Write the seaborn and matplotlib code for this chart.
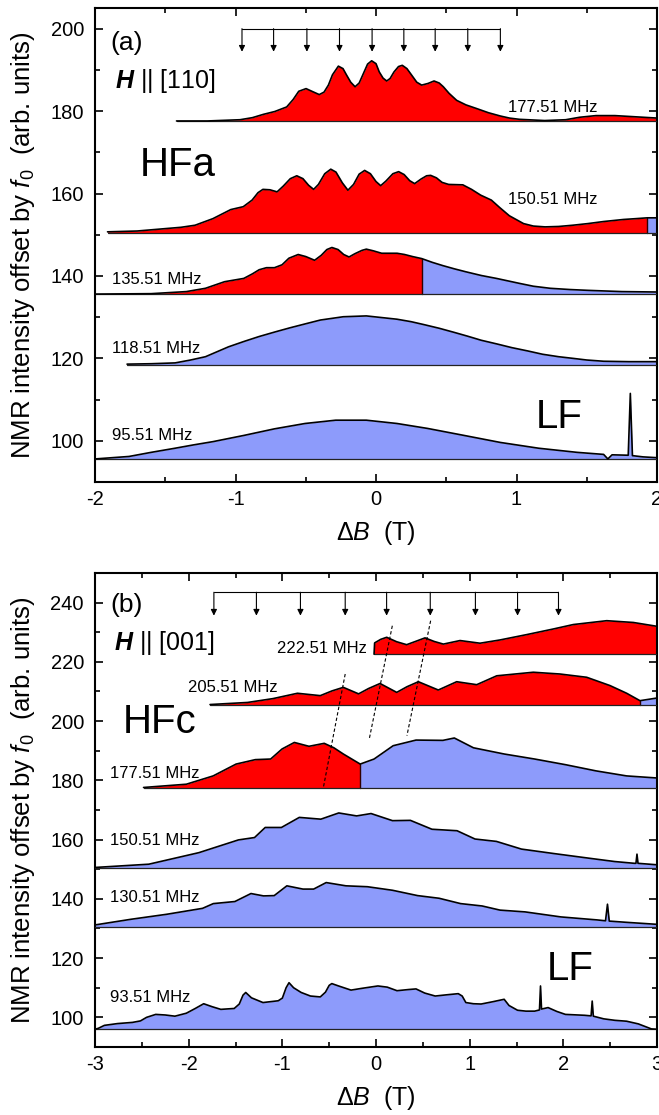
import numpy as np
import matplotlib
matplotlib.use("Agg")
import matplotlib.pyplot as plt
from matplotlib.ticker import MultipleLocator
import seaborn as sns
import pandas as pd

sns.set_theme(style="ticks")
plt.rcParams['font.family'] = ['Liberation Sans', 'DejaVu Sans']
plt.rcParams['mathtext.fontset'] = 'custom'
plt.rcParams['mathtext.rm'] = 'Liberation Sans'
plt.rcParams['mathtext.it'] = 'Liberation Sans:italic'
plt.rcParams['mathtext.bf'] = 'Liberation Sans:bold:italic'
plt.rcParams['axes.unicode_minus'] = False
for k in ['text.color', 'axes.labelcolor', 'xtick.color', 'ytick.color', 'axes.edgecolor']:
    plt.rcParams[k] = 'black'

RED = "#ff0000"
BLUE = "#8d9bfb"

# ---------------- Panel (a): H || [110] ----------------
a177_x = [-1.42, -1.2, -0.968, -0.88, -0.802, -0.72, -0.636, -0.59, -0.55, -0.498, -0.45, -0.404, -0.37,
          -0.339, -0.31, -0.268, -0.235, -0.209, -0.18, -0.149, -0.12, -0.090, -0.06, -0.031, 0.0, 0.023,
          0.05, 0.076, 0.10, 0.128, 0.16, 0.187, 0.22, 0.254, 0.29, 0.325, 0.37, 0.413, 0.45, 0.479,
          0.52, 0.574, 0.64, 0.717, 0.8, 0.885, 0.95, 1.02, 1.2, 1.35, 1.45, 1.566, 1.7, 1.8, 2.0]
a177_y = [177.6, 177.6, 177.9, 178.4, 179.2, 179.9, 181.0, 182.8, 184.8, 185.45, 184.7, 184.0, 184.6,
          186.3, 188.8, 190.9, 190.3, 188.7, 187.0, 185.9, 186.8, 189.1, 191.4, 192.2, 191.5, 189.5,
          188.0, 187.3, 187.9, 189.5, 190.8, 191.1, 190.3, 188.7, 187.0, 186.3, 186.7, 187.3, 186.8, 185.9,
          184.3, 182.6, 181.5, 180.6, 179.6, 178.8, 178.3, 178.0, 177.7, 177.9, 178.5, 178.9, 178.9, 178.7, 178.3]
a177_base, a177_cut = 177.51, 2.0

a150_x = [-1.911, -1.7, -1.492, -1.388, -1.288, -1.161, -1.034, -0.945, -0.882, -0.84, -0.805, -0.755,
          -0.704, -0.66, -0.61, -0.564, -0.52, -0.48, -0.444, -0.41, -0.365, -0.322, -0.285, -0.24, -0.2,
          -0.16, -0.12, -0.081, -0.04, 0.0, 0.033, 0.07, 0.12, 0.161, 0.2, 0.24, 0.275, 0.32, 0.36, 0.389,
          0.43, 0.47, 0.517, 0.618, 0.68, 0.745, 0.821, 0.88, 0.949, 1.05, 1.12, 1.203, 1.3, 1.4, 1.508,
          1.62, 1.762, 1.85, 1.932, 2.0]
a150_y = [150.7, 150.9, 151.5, 151.8, 152.3, 153.9, 156.1, 156.8, 158.4, 160.2, 161.0, 160.9,
          160.4, 161.8, 163.6, 164.3, 163.6, 162.0, 161.0, 162.2, 164.8, 165.9, 165.2, 162.6, 160.8,
          162.2, 164.7, 165.6, 164.8, 162.9, 161.9, 163.0, 164.8, 165.3, 164.6, 163.1, 162.4, 163.5, 164.3, 164.4,
          163.8, 162.7, 162.2, 162.1, 161.0, 159.6, 158.4, 156.6, 154.6, 152.7, 152.1, 151.9, 152.0, 152.3, 152.7,
          153.2, 153.7, 153.9, 154.1, 154.1]
a150_base, a150_cut = 150.51, 1.932

a135_x = [-2.0, -1.6, -1.35, -1.214, -1.078, -0.941, -0.88, -0.832, -0.78, -0.723, -0.669, -0.62, -0.554,
          -0.50, -0.437, -0.39, -0.35, -0.314, -0.27, -0.23, -0.192, -0.15, -0.10, -0.069, -0.02, 0.04,
          0.094, 0.15, 0.203, 0.26, 0.326, 0.40, 0.476, 0.56, 0.64, 0.75, 0.857, 1.02, 1.12, 1.24, 1.38,
          1.51, 1.75, 2.0]
a135_y = [135.6, 135.7, 136.2, 137.0, 138.6, 139.4, 140.5, 141.5, 142.0, 142.0, 142.7, 144.3, 145.2,
          144.7, 143.8, 145.0, 146.4, 146.9, 146.4, 145.2, 144.6, 145.4, 146.2, 146.5, 146.1, 145.5,
          145.5, 145.5, 145.2, 144.7, 144.2, 143.3, 142.5, 141.7, 141.0, 140.1, 139.4, 138.2, 137.5, 137.0, 136.7,
          136.5, 136.2, 136.1]
a135_base, a135_cut = 135.51, 0.326

a118_x = [-1.772, -1.6, -1.43, -1.32, -1.214, -1.05, -0.94, -0.832, -0.72, -0.614, -0.5, -0.396, -0.233,
          -0.069, 0.149, 0.25, 0.34, 0.45, 0.557, 0.65, 0.748, 0.86, 0.967, 1.08, 1.185, 1.3, 1.402,
          1.5, 1.62, 1.8, 2.0]
a118_y = [118.6, 118.7, 118.9, 119.6, 120.4, 122.8, 124.1, 125.3, 126.4, 127.4, 128.4, 129.3, 130.1,
          130.3, 129.5, 128.9, 128.2, 127.3, 126.3, 125.4, 124.4, 123.5, 122.6, 121.8, 121.0, 120.4, 120.0,
          119.6, 119.3, 119.2, 119.2]
a118_base, a118_cut = 118.51, -1.772

a95_x = [-2.0, -1.758, -1.6, -1.43, -1.3, -1.16, -0.941, -0.723, -0.505, -0.287, -0.069, 0.149, 0.367, 0.612,
         0.885, 1.157, 1.43, 1.62, 1.65, 1.68, 1.795, 1.81, 1.825, 1.9, 2.0]
a95_y = [95.6, 96.2, 97.2, 98.2, 99.0, 99.8, 101.3, 102.9, 104.2, 105.0, 105.0, 104.2, 103.0, 101.4,
         99.6, 98.2, 97.2, 96.7, 95.6, 96.6, 96.5, 111.5, 96.4, 96.1, 95.9]
a95_base, a95_cut = 95.51, -2.0

a_arrows = [-0.954, -0.729, -0.492, -0.260, -0.028, 0.198, 0.421, 0.653, 0.885]
a_arrow_top, a_arrow_tip = 200.0, 194.4

# ---------------- Panel (b): H || [001] ----------------
b222_x = [-0.021, -0.015, 0.05, 0.114, 0.22, 0.327, 0.43, 0.523, 0.62, 0.719, 0.897, 1.11, 1.324,
          1.608, 1.893, 2.106, 2.463, 2.747, 3.0]
b222_y = [222.6, 226.4, 227.6, 228.3, 226.8, 225.8, 227.0, 228.1, 226.9, 226.0, 227.2, 226.3, 227.4,
          229.2, 231.1, 232.6, 233.9, 233.3, 232.0]
b222_base, b222_cut = 222.51, 3.0

b205_x = [-1.772, -1.371, -1.1, -0.839, -0.595, -0.47, -0.349, -0.186, -0.08, 0.043, 0.221, 0.33, 0.452,
          0.665, 0.861, 1.075, 1.289, 1.679, 1.964, 2.249, 2.498, 2.676, 2.818, 3.0]
b205_y = [205.6, 206.3, 207.6, 209.4, 208.6, 210.2, 211.4, 209.2, 211.0, 212.7, 209.7, 211.6, 213.3,
          210.5, 213.3, 212.3, 215.3, 216.5, 215.9, 214.8, 212.0, 209.4, 206.9, 207.8]
b205_base, b205_cut = 205.51, 2.818

b177_x = [-2.482, -2.025, -1.739, -1.494, -1.289, -1.125, -1.003, -0.872, -0.716, -0.553, -0.45, -0.349,
          -0.169, -0.021, 0.183, 0.427, 0.714, 0.836, 1.04, 1.368, 1.694, 2.022, 2.349, 2.676, 3.0]
b177_y = [177.6, 178.7, 181.5, 185.5, 187.0, 187.2, 190.6, 192.8, 191.5, 192.5, 191.0, 188.9,
          185.5, 187.2, 191.7, 193.6, 193.5, 194.3, 191.0, 188.9, 187.2, 185.3, 183.2, 181.5, 180.8]
b177_base, b177_cut = 177.51, -0.169

b150_x = [-3.0, -2.426, -1.891, -1.469, -1.297, -1.183, -1.01, -0.819, -0.589, -0.398, -0.207, -0.053,
          0.176, 0.367, 0.597, 0.865, 1.057, 1.285, 1.553, 1.898, 2.28, 2.548, 2.758, 2.775, 2.786,
          2.797, 3.0]
b150_y = [150.6, 151.7, 155.6, 159.9, 160.7, 164.1, 164.1, 167.5, 166.9, 169.0, 168.0, 168.8,
          166.4, 166.5, 163.5, 163.0, 160.2, 159.4, 156.8, 155.3, 153.7, 152.6, 152.0, 152.0, 155.1,
          152.0, 151.5]
b150_base, b150_cut = 150.51, -3.0

b130_x = [-3.0, -2.618, -2.234, -1.852, -1.737, -1.507, -1.335, -1.201, -1.087, -0.952, -0.78, -0.666,
          -0.532, -0.321, -0.092, 0.176, 0.444, 0.674, 0.903, 1.133, 1.324, 1.592, 1.975, 2.358, 2.45,
          2.471, 2.49, 2.664, 3.0]
b130_y = [131.2, 133.1, 134.8, 136.8, 138.4, 139.1, 141.8, 141.0, 141.1, 144.4, 143.3, 143.3,
          145.5, 144.4, 144.1, 142.9, 141.1, 140.2, 138.4, 137.6, 136.2, 135.6, 133.9, 132.9, 132.6,
          138.2, 132.5, 132.1, 131.4]
b130_base, b130_cut = 130.51, -3.0

b93_x = [-3.0, -2.965, -2.9, -2.76, -2.6, -2.515, -2.45, -2.352, -2.25, -2.147, -2.025, -1.93, -1.84,
         -1.75, -1.657, -1.514, -1.46, -1.42, -1.391, -1.33, -1.207, -1.044, -1.0, -0.96, -0.929, -0.88,
         -0.799, -0.7, -0.595, -0.54, -0.5, -0.472, -0.40, -0.267, -0.15, 0.02, 0.12, 0.224, 0.35, 0.427,
         0.52, 0.632, 0.75, 0.878, 0.92, 0.959, 1.04, 1.122, 1.25, 1.368, 1.42, 1.511, 1.60, 1.694,
         1.745, 1.756, 1.767, 1.837, 1.93, 2.022, 2.226, 2.296, 2.308, 2.32, 2.431, 2.55, 2.675, 2.8,
         2.94, 3.0]
b93_y = [96.0, 96.3, 97.3, 97.9, 98.3, 98.8, 100.0, 101.0, 100.8, 100.4, 101.4, 103.0, 104.6,
         103.6, 102.7, 103.0, 104.5, 107.5, 108.4, 106.6, 105.0, 105.6, 106.5, 110.0, 111.7, 110.0,
         108.4, 107.2, 106.9, 108.5, 110.8, 111.4, 110.6, 109.2, 109.8, 110.6, 110.2, 109.0, 109.4, 109.6,
         108.2, 107.2, 107.6, 108.0, 107.2, 105.0, 104.6, 104.5, 105.3, 106.1, 104.0, 102.4, 102.1, 102.1,
         102.5, 110.6, 102.8, 103.3, 102.0, 101.0, 100.7, 100.5, 105.5, 100.4, 99.5, 99.0, 98.7, 97.8,
         96.1, 96.0]
b93_base, b93_cut = 96.0, -3.0

b_arrows = [-1.731, -1.277, -0.807, -0.329, 0.113, 0.579, 1.061, 1.511, 1.948]
b_arrow_top, b_arrow_tip = 243.5, 235.6

b_dash_x0 = [-0.329, 0.174, 0.583]
b_dash_y0 = [215.9, 232.2, 233.9]
b_dash_x1 = [-0.562, -0.072, 0.330]
b_dash_y1 = [177.6, 194.0, 195.1]

traces_a = [(a177_x, a177_y, a177_base, a177_cut), (a150_x, a150_y, a150_base, a150_cut),
            (a135_x, a135_y, a135_base, a135_cut), (a118_x, a118_y, a118_base, a118_cut),
            (a95_x, a95_y, a95_base, a95_cut)]
traces_b = [(b222_x, b222_y, b222_base, b222_cut), (b205_x, b205_y, b205_base, b205_cut),
            (b177_x, b177_y, b177_base, b177_cut), (b150_x, b150_y, b150_base, b150_cut),
            (b130_x, b130_y, b130_base, b130_cut), (b93_x, b93_y, b93_base, b93_cut)]


def draw_trace(ax, xs, ys, base, cut):
    x = np.asarray(xs, float)
    y = np.asarray(ys, float)
    m1 = x <= cut + 1e-9
    m2 = x >= cut - 1e-9
    if m1.sum() > 1:
        ax.fill_between(x[m1], base, y[m1], color=RED, lw=0, zorder=2)
    if m2.sum() > 1:
        ax.fill_between(x[m2], base, y[m2], color=BLUE, lw=0, zorder=2)
    if x[0] < cut < x[-1]:
        yc = y[np.argmin(np.abs(x - cut))]
        ax.plot([cut, cut], [base, yc], color="#300000", lw=1.0, zorder=3)
    ax.plot([x[0], x[-1]], [base, base], color="#222222", lw=0.9, zorder=3)
    df = pd.DataFrame({"x": x, "y": y})
    sns.lineplot(data=df, x="x", y="y", ax=ax, color="black", lw=1.2, sort=False,
                 estimator=None, zorder=4)


def draw_arrows(ax, xs, top, tip):
    ax.plot([xs[0], xs[-1]], [top, top], color="black", lw=0.8, zorder=5)
    for xa in xs:
        ax.annotate("", xy=(xa, tip), xytext=(xa, top),
                    arrowprops=dict(arrowstyle="-|>", color="black", lw=0.8,
                                    mutation_scale=9, shrinkA=0, shrinkB=0), zorder=5)


def style_axes(ax, xlim, ylim, ymaj):
    ax.set_xlim(*xlim)
    ax.set_ylim(*ylim)
    ax.xaxis.set_major_locator(MultipleLocator(1))
    ax.xaxis.set_minor_locator(MultipleLocator(0.5))
    ax.yaxis.set_major_locator(MultipleLocator(ymaj))
    ax.yaxis.set_minor_locator(MultipleLocator(ymaj / 2))
    ax.tick_params(which="both", direction="in", top=True, right=True, width=1.2, colors="black")
    ax.tick_params(which="major", length=6, labelsize=14.5)
    ax.tick_params(axis="x", which="major", pad=6)
    ax.tick_params(axis="y", which="major", pad=8)
    ax.tick_params(which="minor", length=3.5)
    for s in ax.spines.values():
        s.set_linewidth(1.5)
        s.set_color("black")
    ax.set_xlabel(r"$\Delta\mathit{B}$  (T)", fontsize=18, va="center", color="black")
    ax.set_ylabel(r"NMR intensity offset by $\mathit{f}_0$  (arb. units)", fontsize=18.5,
                  va="center", color="black")
    ax.xaxis.set_label_coords(0.5, -0.1076)
    ax.yaxis.set_label_coords(-0.128, 0.5)


fig = plt.figure(figsize=(6.59, 11.15), dpi=100)
ax_a = fig.add_axes([0.1442, 0.5677, 0.8528, 0.4251])
ax_b = fig.add_axes([0.1442, 0.0610, 0.8528, 0.4251])

for t in traces_a:
    draw_trace(ax_a, *t)
for t in traces_b:
    draw_trace(ax_b, *t)

draw_arrows(ax_a, a_arrows, a_arrow_top, a_arrow_tip)
draw_arrows(ax_b, b_arrows, b_arrow_top, b_arrow_tip)
for x0, y0, x1, y1 in zip(b_dash_x0, b_dash_y0, b_dash_x1, b_dash_y1):
    ax_b.plot([x0, x1], [y0, y1], color="black", lw=0.8, ls=(0, (3, 2)), zorder=6)

style_axes(ax_a, (-2, 2), (90, 205), 20)
style_axes(ax_b, (-3, 3), (90, 250), 20)

fs_freq = 12
fs_big = 29
ta = ax_a.transAxes
ax_a.text(0.057, 0.926, "(a)", transform=ta, fontsize=19, ha="center", va="center")
ax_a.text(0.036, 0.845, r"$\mathbf{H}$ || [110]", transform=ta, fontsize=18, ha="left", va="center")
ax_a.text(0.079, 0.669, "HFa", transform=ta, fontsize=fs_big, ha="left", va="center")
ax_a.text(0.735, 0.79, "177.51 MHz", transform=ta, fontsize=fs_freq, ha="left", va="center")
ax_a.text(0.735, 0.595, "150.51 MHz", transform=ta, fontsize=fs_freq, ha="left", va="center")
ax_a.text(0.031, 0.428, "135.51 MHz", transform=ta, fontsize=fs_freq, ha="left", va="center")
ax_a.text(0.030, 0.282, "118.51 MHz", transform=ta, fontsize=fs_freq, ha="left", va="center")
ax_a.text(0.031, 0.099, "95.51 MHz", transform=ta, fontsize=fs_freq, ha="left", va="center")
ax_a.text(0.785, 0.137, "LF", transform=ta, fontsize=fs_big, ha="left", va="center")

tb = ax_b.transAxes
ax_b.text(0.057, 0.932, "(b)", transform=tb, fontsize=19, ha="center", va="center")
ax_b.text(0.033, 0.852, r"$\mathbf{H}$ || [001]", transform=tb, fontsize=18, ha="left", va="center")
ax_b.text(0.323, 0.841, "222.51 MHz", transform=tb, fontsize=fs_freq, ha="left", va="center")
ax_b.text(0.165, 0.759, "205.51 MHz", transform=tb, fontsize=fs_freq, ha="left", va="center")
ax_b.text(0.05, 0.686, "HFc", transform=tb, fontsize=fs_big, ha="left", va="center")
ax_b.text(0.026, 0.577, "177.51 MHz", transform=tb, fontsize=fs_freq, ha="left", va="center")
ax_b.text(0.026, 0.435, "150.51 MHz", transform=tb, fontsize=fs_freq, ha="left", va="center")
ax_b.text(0.026, 0.315, "130.51 MHz", transform=tb, fontsize=fs_freq, ha="left", va="center")
ax_b.text(0.026, 0.105, "93.51 MHz", transform=tb, fontsize=fs_freq, ha="left", va="center")
ax_b.text(0.803, 0.164, "LF", transform=tb, fontsize=fs_big, ha="left", va="center")

fig.savefig("out.png", dpi=100)
